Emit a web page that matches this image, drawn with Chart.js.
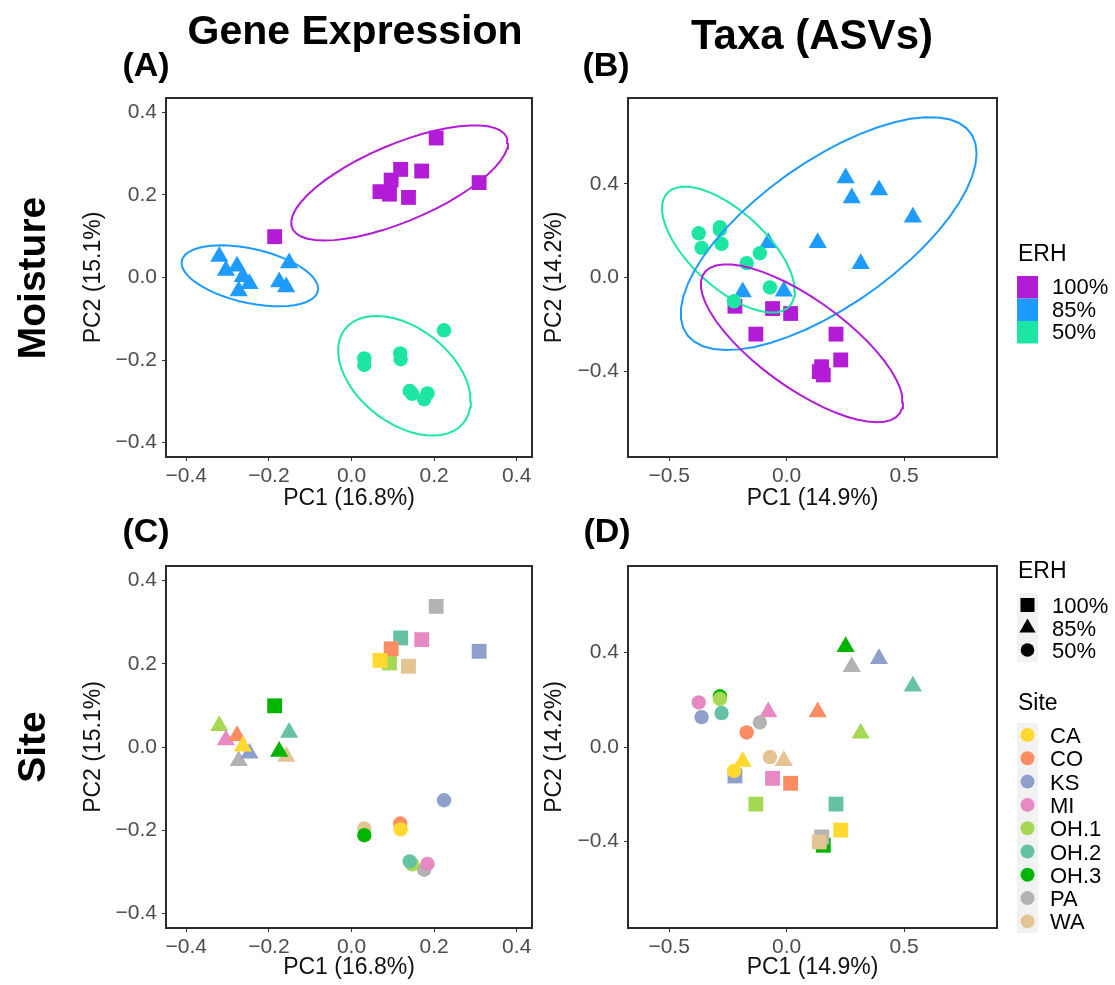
<!DOCTYPE html>
<html><head><meta charset="utf-8">
<script src="https://cdn.jsdelivr.net/npm/chart.js@4.4.0/dist/chart.umd.min.js"></script>
<style>
html,body{margin:0;padding:0;background:#fff;}
body{width:1115px;height:985px;position:relative;overflow:hidden;font-family:"Liberation Sans",Arial,Helvetica,sans-serif;color:#000;}
canvas{position:absolute;}
.t{position:absolute;white-space:nowrap;line-height:1;}
</style></head>
<body>
<canvas id="cA" width="485" height="433" style="left:60px;top:80px;width:485px;height:433px"></canvas>
<canvas id="cB" width="489" height="433" style="left:521px;top:80px;width:489px;height:433px"></canvas>
<canvas id="cC" width="485" height="434" style="left:60px;top:548px;width:485px;height:434px"></canvas>
<canvas id="cD" width="489" height="434" style="left:521px;top:548px;width:489px;height:434px"></canvas>
<svg id="leg" width="1115" height="985" style="position:absolute;left:0;top:0;pointer-events:none"></svg>
<script>
// ---------------- data ----------------
const sites = ['CA','CO','KS','MI','OH.1','OH.2','OH.3','PA','WA'];
const siteColors = ['#FFD92F','#FC8D62','#8DA0CB','#E78AC3','#A6D854','#66C2A5','#00B500','#B3B3B3','#E5C494'];
const erhLevels = ['100%','85%','50%'];
const erhColors = ['#B21CD6','#1E9BFF','#1DE6A5'];

// Gene expression PCA (PC1, PC2), ordered by site
const gene100x = [0.069, 0.096, 0.309, 0.170, 0.092, 0.119, -0.186, 0.205, 0.138];
const gene100y = [0.208, 0.236, 0.230, 0.258, 0.202, 0.262, 0.099, 0.338, 0.194];
const gene85x  = [-0.263, -0.277, -0.247, -0.304, -0.320, -0.151, -0.175, -0.273, -0.158];
const gene85y  = [0.002, 0.027, -0.015, 0.017, 0.051, 0.035, -0.011, -0.033, -0.023];
const gene50x  = [0.119, 0.118, 0.224, 0.184, 0.147, 0.141, 0.031, 0.176, 0.031];
const gene50y  = [-0.198, -0.184, -0.128, -0.281, -0.282, -0.275, -0.212, -0.295, -0.196];

// Taxa (ASVs) PCA (PC1, PC2), ordered by site
const taxa100x = [0.230, 0.017, -0.220, -0.060, -0.131, 0.210, 0.156, 0.149, 0.139];
const taxa100y = [-0.351, -0.153, -0.122, -0.132, -0.241, -0.241, -0.415, -0.380, -0.401];
const taxa85x  = [-0.187, 0.132, 0.393, -0.078, 0.315, 0.537, 0.251, 0.277, -0.012];
const taxa85y  = [-0.061, 0.149, 0.374, 0.149, 0.059, 0.257, 0.425, 0.340, -0.058];
const taxa50x  = [-0.224, -0.170, -0.362, -0.374, -0.284, -0.277, -0.284, -0.114, -0.071];
const taxa50y  = [-0.101, 0.062, 0.127, 0.189, 0.204, 0.144, 0.215, 0.104, -0.042];

// axis ticks and ranges
const geneTicks = [-0.4, -0.2, 0.0, 0.2, 0.4];
const taxaXTicks = [-0.5, 0.0, 0.5];
const taxaYTicks = [-0.4, 0.0, 0.4];
const geneXRange = [-0.449, 0.437];
const geneYRange = [-0.435, 0.435];
const taxaXRange = [-0.675, 0.895];
const taxaYRange = [-0.765, 0.766];

// drawing order of sites (first = bottom)
const geneDrawOrder = ['WA','PA','OH.3','OH.1','OH.2','MI','KS','CO','CA'];
const taxaDrawOrder = ['OH.3','PA','WA','OH.2','OH.1','MI','KS','CO','CA'];

// stat_ellipse (type "t", level 0.95): qf(0.95, 2, n-1) with n = 9
const F95_2_8 = 4.45897;
const SEGMENTS = 51;

// ---------------- helpers ----------------
const FONT = '"Liberation Sans", Arial, Helvetica, sans-serif';
function fmtTick(v){ const s = Math.abs(v).toFixed(1); return (v < -1e-9 ? '\u2212' : '') + s; }

function covTrob(xs, ys, nu = 5, maxit = 25, tol = 0.01){
  const n = xs.length;
  let lx = xs.reduce((a,b)=>a+b,0)/n, ly = ys.reduce((a,b)=>a+b,0)/n;
  let w = new Array(n).fill(1);
  let X = [];
  for (let it = 0; it < maxit; it++){
    const w0 = w.slice();
    X = xs.map((x,i)=>[x - lx, ys[i] - ly]);
    const sw = w.reduce((a,b)=>a+b,0);
    let a=0,b=0,c=0;
    for (let i=0;i<n;i++){ const f=w[i]/sw; a+=f*X[i][0]*X[i][0]; b+=f*X[i][0]*X[i][1]; c+=f*X[i][1]*X[i][1]; }
    const det = a*c - b*b;
    const Q = X.map(([u,v]) => (c*u*u - 2*b*u*v + a*v*v)/det);
    w = Q.map(q => (nu + 2)/(nu + q));
    const s2 = w.reduce((p,q)=>p+q,0);
    lx = w.reduce((p,wi,i)=>p+wi*xs[i],0)/s2;
    ly = w.reduce((p,wi,i)=>p+wi*ys[i],0)/s2;
    if (w.every((wi,i)=>Math.abs(wi-w0[i]) < tol)) break;
  }
  let a=0,b=0,c=0;
  for (let i=0;i<n;i++){ a+=w[i]*X[i][0]*X[i][0]; b+=w[i]*X[i][0]*X[i][1]; c+=w[i]*X[i][1]*X[i][1]; }
  return {center:[lx,ly], cov:[a/n, b/n, c/n]};
}
function ellipse(xs, ys){
  const t = covTrob(xs, ys);
  const [a,b,c] = t.cov;
  const r11 = Math.sqrt(a), r12 = b/r11, r22 = Math.sqrt(Math.max(c - r12*r12, 0));
  const rad = Math.sqrt(2*F95_2_8);
  const pts = [];
  for (let k=0;k<=SEGMENTS;k++){
    const ang = k*2*Math.PI/SEGMENTS, cs = Math.cos(ang), sn = Math.sin(ang);
    pts.push({x: t.center[0] + rad*cs*r11, y: t.center[1] + rad*(cs*r12 + sn*r22)});
  }
  return pts;
}
const shapeOf = ['rect','triangle','circle'];
const radiusOf = {rect:10.5, triangle:10.5, circle:7.2};

function ellipseDS(xs, ys, color){
  return {data: ellipse(xs, ys), showLine:true, pointRadius:0, borderColor:color, borderWidth:2, fill:false, tension:0};
}
// points coloured by ERH level
function erhDS(xs, ys, lvl){
  const st = shapeOf[lvl];
  return {data: xs.map((x,i)=>({x, y:ys[i]})), showLine:false, pointStyle:st, pointRadius:radiusOf[st],
    pointBackgroundColor:erhColors[lvl], pointBorderWidth:0, pointHoverRadius:radiusOf[st]};
}
// points coloured by site
function siteDS(xs, ys, lvl, order){
  const st = shapeOf[lvl];
  const idx = order.map(s=>sites.indexOf(s));
  return {data: idx.map(i=>({x:xs[i], y:ys[i]})), showLine:false, pointStyle:st, pointRadius:radiusOf[st],
    pointBackgroundColor: idx.map(i=>siteColors[i]), pointBorderWidth:0, pointHoverRadius:radiusOf[st]};
}

const frame = {id:'frame', afterDraw(chart){
  const {ctx, chartArea:a} = chart;
  ctx.save(); ctx.strokeStyle = '#2b2b2b'; ctx.lineWidth = 2;
  ctx.strokeRect(a.left, a.top, a.right-a.left, a.bottom-a.top); ctx.restore();
}};

function panel(id, yW, xH, padR, xr, yr, xt, yt, xTitle, yTitle, datasets){
  const tickFont = {family:FONT, size:21, lineHeight:1.2};
  const titleFont = {family:FONT, size:23, lineHeight:1};
  const grid = {drawOnChartArea:false, drawTicks:true, tickLength:4, color:'#333', lineWidth:1};
  new Chart(document.getElementById(id), {
    type:'scatter',
    data:{datasets},
    options:{
      responsive:false, animation:false, devicePixelRatio:1, events:[],
      layout:{padding:{left:0, top:18, right:padR, bottom:0}},
      plugins:{legend:{display:false}, tooltip:{enabled:false}},
      scales:{
        x:{type:'linear', min:xr[0], max:xr[1],
          afterBuildTicks:s=>{ s.ticks = xt.map(v=>({value:v})); },
          afterFit:s=>{ s.height = xH; s.paddingLeft = 0; s.paddingRight = 0; },
          ticks:{callback:v=>fmtTick(v), color:'#4D4D4D', font:tickFont, padding:3, maxRotation:0, autoSkip:false},
          grid, border:{display:false},
          title:{display:true, text:xTitle, color:'#111', font:titleFont, padding:{top:0, bottom:2.5}}},
        y:{type:'linear', min:yr[0], max:yr[1],
          afterBuildTicks:s=>{ s.ticks = yt.map(v=>({value:v})); },
          afterFit:s=>{ s.width = yW; s.paddingTop = 0; s.paddingBottom = 0; },
          ticks:{callback:v=>fmtTick(v), color:'#4D4D4D', font:tickFont, padding:5, autoSkip:false},
          grid, border:{display:false},
          title:{display:true, text:yTitle, color:'#111', font:titleFont, padding:{top:22, bottom:0}}}
      }
    },
    plugins:[frame]
  });
}

// ---------------- panels ----------------
panel('cA', 106, 56, 13, geneXRange, geneYRange, geneTicks, geneTicks, 'PC1 (16.8%)', 'PC2 (15.1%)', [
  ellipseDS(gene100x, gene100y, erhColors[0]),
  ellipseDS(gene85x, gene85y, erhColors[1]),
  ellipseDS(gene50x, gene50y, erhColors[2]),
  erhDS(gene50x, gene50y, 2), erhDS(gene85x, gene85y, 1), erhDS(gene100x, gene100y, 0)
]);
panel('cB', 107, 56, 13, taxaXRange, taxaYRange, taxaXTicks, taxaYTicks, 'PC1 (14.9%)', 'PC2 (14.2%)', [
  ellipseDS(taxa100x, taxa100y, erhColors[0]),
  ellipseDS(taxa85x, taxa85y, erhColors[1]),
  ellipseDS(taxa50x, taxa50y, erhColors[2]),
  erhDS(taxa50x, taxa50y, 2), erhDS(taxa85x, taxa85y, 1), erhDS(taxa100x, taxa100y, 0)
]);
panel('cC', 106, 54, 13, geneXRange, geneYRange, geneTicks, geneTicks, 'PC1 (16.8%)', 'PC2 (15.1%)', [
  siteDS(gene50x, gene50y, 2, geneDrawOrder), siteDS(gene85x, gene85y, 1, geneDrawOrder), siteDS(gene100x, gene100y, 0, geneDrawOrder)
]);
panel('cD', 107, 54, 13, taxaXRange, taxaYRange, taxaXTicks, taxaYTicks, 'PC1 (14.9%)', 'PC2 (14.2%)', [
  siteDS(taxa50x, taxa50y, 2, taxaDrawOrder), siteDS(taxa85x, taxa85y, 1, taxaDrawOrder), siteDS(taxa100x, taxa100y, 0, taxaDrawOrder)
]);

// ---------------- text ----------------
function txt(s, x, y, size, opts = {}){
  const d = document.createElement('div');
  d.className = 't'; d.textContent = s;
  d.style.left = x + 'px'; d.style.top = y + 'px'; d.style.fontSize = size + 'px';
  if (opts.bold) d.style.fontWeight = 'bold';
  let tr = opts.center ? 'translate(-50%,-50%)' : 'translate(0,-50%)';
  if (opts.rot) tr += ' rotate(-90deg)';
  d.style.transform = tr;
  document.body.appendChild(d);
}
txt('Gene Expression', 355, 30, 41, {bold:true, center:true});
txt('Taxa (ASVs)', 812, 35, 42, {bold:true, center:true});
txt('(A)', 146, 64, 34, {bold:true, center:true});
txt('(B)', 606, 64, 34, {bold:true, center:true});
txt('(C)', 146, 530, 34, {bold:true, center:true});
txt('(D)', 607, 530, 34, {bold:true, center:true});
txt('Moisture', 31, 278, 39, {bold:true, center:true, rot:true});
txt('Site', 31, 747, 39, {bold:true, center:true, rot:true});

// legends
const svg = document.getElementById('leg');
const NS = 'http://www.w3.org/2000/svg';
function el(tag, attrs){ const e = document.createElementNS(NS, tag); for (const k in attrs) e.setAttribute(k, attrs[k]); svg.appendChild(e); return e; }

txt('ERH', 1018, 253, 23);
erhLevels.forEach((lv, i) => {
  el('rect', {x:1017, y:276 + i*22.5, width:21, height:22.5, fill:erhColors[i]});
  txt(lv, 1052, 287 + i*22.5, 22);
});

txt('ERH', 1018, 570, 23);
el('rect', {x:1017, y:593, width:21, height:69, fill:'#F2F2F2'});
const ky = [605, 627.5, 650];
el('rect', {x:1020.5, y:ky[0]-7, width:14, height:14, fill:'#000'});
el('polygon', {points:`1027.5,${ky[1]-9} 1035.6,${ky[1]+5} 1019.4,${ky[1]+5}`, fill:'#000'});
el('circle', {cx:1027.5, cy:ky[2], r:6.8, fill:'#000'});
erhLevels.forEach((lv, i) => txt(lv, 1052, ky[i] + 1, 22));

txt('Site', 1018, 702, 23);
el('rect', {x:1017, y:723, width:21, height:210, fill:'#F2F2F2'});
sites.forEach((s, i) => {
  const cy = 735 + i*23.3;
  el('circle', {cx:1027.5, cy, r:7, fill:siteColors[i]});
  txt(s, 1050, cy + 1, 22);
});
</script>
</body></html>
